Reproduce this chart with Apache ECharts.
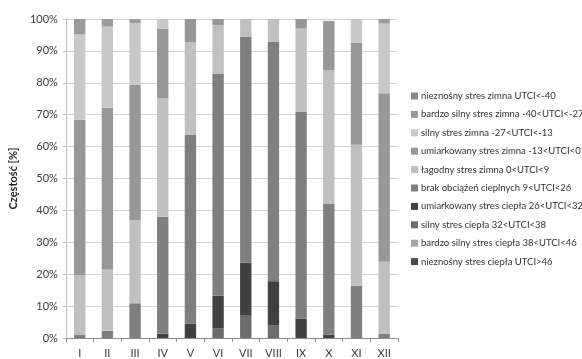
<!DOCTYPE html>
<html>
<head>
<meta charset="utf-8">
<script src="https://cdn.jsdelivr.net/npm/echarts@6/dist/echarts.min.js"></script>
<style>
  html, body { margin: 0; padding: 0; background: #fff; }
  #chart { width: 582px; height: 359px; }
</style>
</head>
<body>
<div id="chart"></div>
<script>
// Months (Roman numerals) on the category axis
const months = ['I', 'II', 'III', 'IV', 'V', 'VI', 'VII', 'VIII', 'IX', 'X', 'XI', 'XII'];

// Share of each UTCI thermal-stress class per month [%], stacked bottom to top
const nieznosnyCiepla     = [0, 0, 0, 0, 0, 0, 0, 0, 0, 0, 0, 0];
const bardzoSilnyCiepla   = [0, 0, 0, 0, 0, 0, 0, 0, 0, 0, 0, 0];
const silnyCiepla         = [0, 0, 0, 0, 0, 3.1, 7.0, 3.9, 0, 0, 0, 0];
const umiarkowanyCiepla   = [0, 0, 0, 1.3, 4.5, 10.2, 16.6, 13.9, 6.1, 1.0, 0, 0];
const brakObciazen        = [1.1, 2.3, 10.9, 36.7, 59.2, 69.6, 70.8, 75.0, 64.9, 41.0, 16.4, 1.3];
const lagodnyZimna        = [18.6, 19.2, 25.9, 37.1, 29.1, 15.2, 5.6, 7.2, 26.0, 41.9, 44.2, 22.6];
const umiarkowanyZimna    = [48.7, 50.7, 42.7, 21.8, 7.2, 1.9, 0, 0, 3.0, 15.5, 31.9, 52.8];
const silnyZimna          = [26.8, 25.4, 19.2, 3.1, 0, 0, 0, 0, 0, 0, 7.5, 21.9];
const bardzoSilnyZimna    = [4.8, 2.4, 1.3, 0, 0, 0, 0, 0, 0, 0, 0, 1.4];
const nieznosnyZimna      = [0, 0, 0, 0, 0, 0, 0, 0, 0, 0, 0, 0];

// Class names, bottom of the stack first
const classNames = [
  'nieznośny stres ciepła UTCI>46',
  'bardzo silny stres ciepła 38<UTCI<46',
  'silny stres ciepła 32<UTCI<38',
  'umiarkowany stres ciepła 26<UTCI<32',
  'brak obciążeń cieplnych 9<UTCI<26',
  'łagodny stres zimna 0<UTCI<9',
  'umiarkowany stres zimna -13<UTCI<0',
  'silny stres zimna -27<UTCI<-13',
  'bardzo silny stres zimna -40<UTCI<-27',
  'nieznośny stres zimna UTCI<-40'
];
const classValues = [
  nieznosnyCiepla, bardzoSilnyCiepla, silnyCiepla, umiarkowanyCiepla, brakObciazen,
  lagodnyZimna, umiarkowanyZimna, silnyZimna, bardzoSilnyZimna, nieznosnyZimna
];
const classColors = [
  '#4a4a4a', '#a6a6a6', '#6c6c6c', '#404040', '#7f7f7f',
  '#c0c0c0', '#979797', '#c8c8c8', '#9b9b9b', '#8a8a8a'
];

const FONT = 'Lato, "Open Sans", sans-serif';

const chart = echarts.init(document.getElementById('chart'), null, { renderer: 'canvas' });

chart.setOption({
  animation: false,
  backgroundColor: '#ffffff',
  textStyle: { fontFamily: FONT },
  grid: { left: 60, right: 184, top: 19, bottom: 18, containLabel: false },
  legend: {
    orient: 'vertical',
    left: 406,
    top: 85,
    itemWidth: 7,
    itemHeight: 7,
    itemGap: 6.4,
    icon: 'rect',
    data: classNames.slice().reverse(),
    textStyle: { fontFamily: FONT, fontSize: 9.5, color: '#333333', lineHeight: 12, padding: [0, 0, 0, -2] }
  },
  xAxis: {
    type: 'category',
    data: months,
    axisLine: { lineStyle: { color: '#8c8c8c', width: 1 } },
    axisTick: { show: true, length: 4, lineStyle: { color: '#8c8c8c' } },
    axisLabel: { fontFamily: FONT, fontSize: 11, color: '#3a3a3a', margin: 10 },
    splitLine: { show: false }
  },
  yAxis: {
    type: 'value',
    min: 0,
    max: 100,
    interval: 10,
    name: 'Częstość [%]',
    nameLocation: 'middle',
    nameGap: 38,
    nameTextStyle: { fontFamily: FONT, fontSize: 11, fontWeight: 'bold', color: '#262626' },
    axisLine: { show: true, lineStyle: { color: '#bcbcbc' } },
    axisTick: { show: true, length: 3, lineStyle: { color: '#bcbcbc' } },
    axisLabel: { fontFamily: FONT, fontSize: 11, color: '#3a3a3a', margin: 8, formatter: '{value}%' },
    splitLine: { show: true, lineStyle: { color: '#d2d2d2', width: 1 } }
  },
  series: classNames.map((name, i) => ({
    name: name,
    type: 'bar',
    stack: 'utci',
    barWidth: '41%',
    itemStyle: { color: classColors[i] },
    emphasis: { disabled: true },
    data: classValues[i]
  }))
});
</script>
</body>
</html>
